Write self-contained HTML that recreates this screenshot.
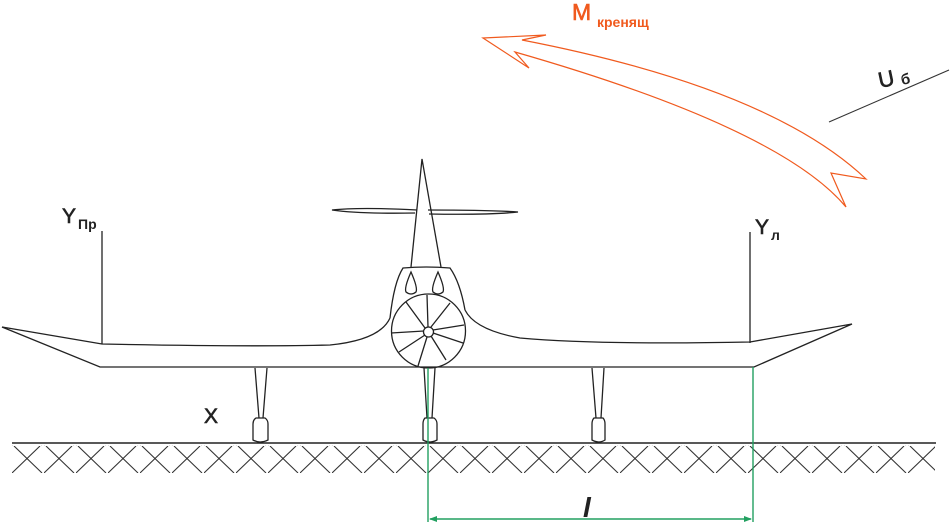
<!DOCTYPE html>
<html><head><meta charset="utf-8"><style>
html,body{margin:0;padding:0;background:#fff;}
svg{display:block;}
text{font-family:"Liberation Sans",Arial,sans-serif;}
</style></head><body>
<svg width="952" height="525" viewBox="0 0 952 525" xmlns="http://www.w3.org/2000/svg">
<defs>
<pattern id="h" x="12" y="446" width="32" height="28" patternUnits="userSpaceOnUse">
<path d="M2 0 L30 27 M28 0 L0 27" stroke="#333" stroke-width="1.1" fill="none"/>
</pattern>
</defs>
<rect x="12" y="445" width="923" height="28" fill="url(#h)"/>
<line x1="12" y1="443" x2="936" y2="443" stroke="#222" stroke-width="1.5"/>

<path d="M483,38 L546,35 L522,40 Q770,88 866,179 L831,173 L846,207 Q780,128 515,52 L529,68 Z" fill="none" stroke="#f05a1e" stroke-width="1.2"/>
<text x="572" y="20" font-size="23" fill="#f05a1e" stroke="#f05a1e" stroke-width="0.6">M</text>
<text x="597" y="27" font-size="14" font-weight="bold" fill="#f05a1e">кренящ</text>

<line x1="949" y1="70" x2="829" y2="122" stroke="#333" stroke-width="1.1"/>
<text x="880" y="88" font-size="22" fill="#222" stroke="#222" stroke-width="0.6" transform="rotate(-12 880 88)">U</text>
<text x="902" y="85" font-size="15" font-weight="bold" fill="#222" transform="rotate(-12 902 85)">б</text>

<g fill="none" stroke="#222" stroke-width="1.3">
<path d="M2,327 L102,344 Q250,347 330,345 Q380,340 390,318"/>
<path d="M2,327 L100,367 L754,367 L852,324 L750,342 Q600,345 520,338 Q475,330 465,310"/>
<line x1="102" y1="344" x2="102" y2="231"/>
<line x1="750" y1="343" x2="750" y2="232"/>
<path d="M411,267 L422,159 L441,267"/>
<path d="M417,210 Q360,207 332,210 Q360,214 415,213"/>
<path d="M428,210 Q490,210 518,212 Q490,215 429,214"/>
<path d="M390,318 Q394,282 403,268 Q426,266 450,268 Q460,282 465,310"/>
<path d="M411,272 Q404,288 406,292 Q411,296 416,292 Q418,288 411,272 Z"/>
<path d="M438,272 Q431,288 433,292 Q438,296 443,292 Q445,288 438,272 Z"/>
<circle cx="428.5" cy="331" r="37"/>
<circle cx="428.5" cy="332" r="5"/>
<path d="M428,327 L427,295 M425,328 L406,302 M424,331 L391,333 M425,335 L399,352 M427,337 L418,366 M431,336 L446,360 M433,333 L463,343 M433,330 L464,325 M431,327 L450,303"/>
<path d="M255,368 L259,418 M267,368 L263,418"/>
<path d="M256,418 Q253,420 253,424 L253,440 Q260,444 268,440 L268,424 Q268,420 265,418 Z"/>
<path d="M424,368 L427,418 M435,368 L432,418"/>
<path d="M425,418 Q423,420 423,424 L423,440 Q430,444 437,440 L437,424 Q437,420 434,418 Z"/>
<path d="M592,368 L596,418 M604,368 L601,418"/>
<path d="M594,418 Q592,420 592,424 L592,440 Q599,444 605,440 L605,424 Q605,420 603,418 Z"/>
</g>

<g stroke="#22a060" stroke-width="1.4" fill="none">
<line x1="428" y1="368" x2="428" y2="522"/>
<line x1="753" y1="367" x2="753" y2="522"/>
<line x1="430" y1="519" x2="751" y2="519"/>
</g>
<path d="M429,519 L437,516 L437,522 Z M752,519 L744,516 L744,522 Z" fill="#22a060"/>

<text x="62" y="223" font-size="21" fill="#222" stroke="#222" stroke-width="0.6">Y</text>
<text x="78" y="229" font-size="14" font-weight="bold" fill="#222">Пр</text>
<text x="755" y="234" font-size="21" fill="#222" stroke="#222" stroke-width="0.6">Y</text>
<text x="771" y="240" font-size="14" font-weight="bold" fill="#222">л</text>
<text x="204" y="423" font-size="21" fill="#222" stroke="#222" stroke-width="0.6">X</text>
<text x="583" y="517" font-size="28" font-style="italic" font-weight="bold" font-family="Liberation Serif,serif" fill="#222">l</text>
</svg>
</body></html>
